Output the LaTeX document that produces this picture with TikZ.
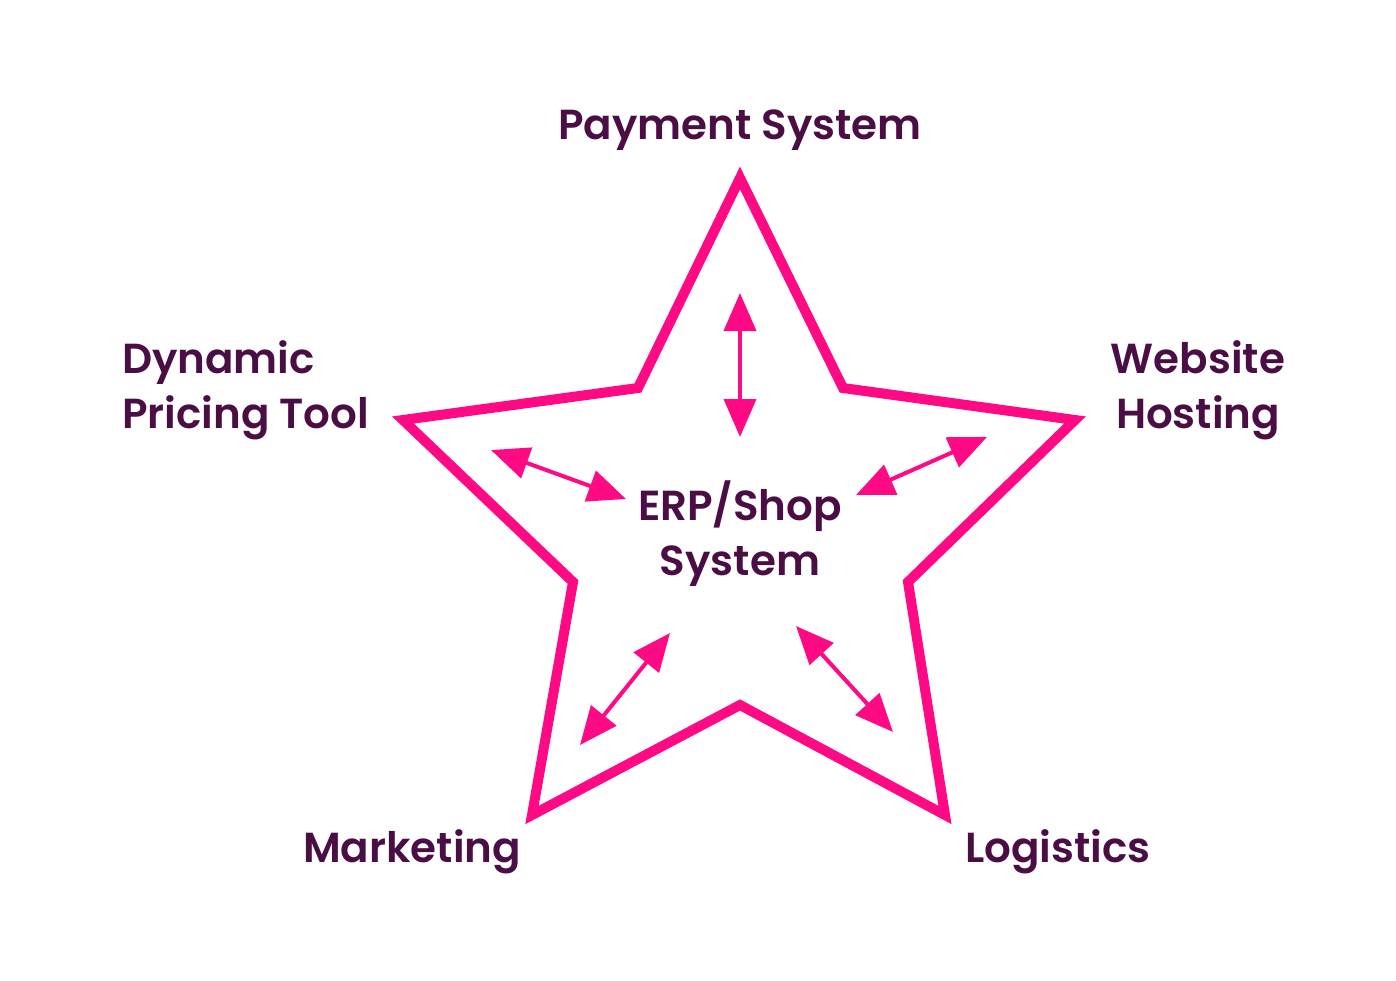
\documentclass[tikz,border=0pt]{standalone}
\usepackage{fontspec}
\setmainfont{Poppins}[BoldFont={* SemiBold}]
\usetikzlibrary{arrows.meta}
\definecolor{starpink}{HTML}{FF0A85}
\definecolor{txtpurple}{HTML}{4A0E45}
\begin{document}
\begin{tikzpicture}[x=1pt,y=-1pt,
  lbl/.style={text=txtpurple,font=\fontsize{42}{55}\selectfont\bfseries,inner sep=0pt},
  conn/.style={draw=starpink,line width=4pt,{Triangle[length=38pt,width=32pt]}-{Triangle[length=38pt,width=32pt]}},
  starline/.style={draw=starpink,line width=10pt,line join=miter}]
\useasboundingbox (0,0) rectangle (1396,980);
\draw[starline] (740,178) -- (843,388) -- (1075,420) -- (908,582) -- (945,815) -- (740,705) -- (532,815) -- (573,582) -- (403,420) -- (638,388) -- cycle;
\node[lbl] (pay) at (740,130) {Payment System};
\node[lbl,align=left,anchor=west] (dyn) at (122,390) {Dynamic\\Pricing Tool};
\node[lbl,align=center] (web) at (1198,390) {Website\\Hosting};
\node[lbl,align=center] (erp) at (740,534) {ERP/Shop\\System};
\node[lbl] (mkt) at (412,852) {Marketing};
\node[lbl] (log) at (1058,852) {Logistics};
\coordinate (a1) at (740,293); \coordinate (b1) at (740,437);
\coordinate (a2) at (491,450); \coordinate (b2) at (626,499);
\coordinate (a3) at (856,495); \coordinate (b3) at (987,437);
\coordinate (a4) at (580,745); \coordinate (b4) at (670,633);
\coordinate (a5) at (796,626); \coordinate (b5) at (893,732);
\draw[conn] (a1) -- (b1);
\draw[conn] (a2) -- (b2);
\draw[conn] (a3) -- (b3);
\draw[conn] (a4) -- (b4);
\draw[conn] (a5) -- (b5);
\end{tikzpicture}
\end{document}
